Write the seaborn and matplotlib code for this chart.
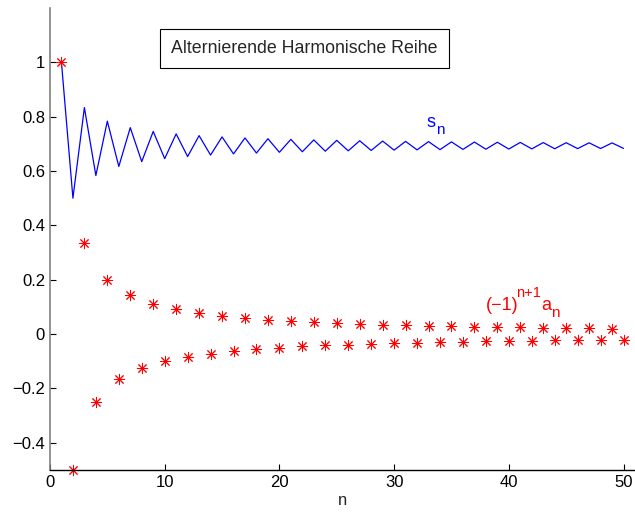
import matplotlib
matplotlib.use("Agg")
import matplotlib.pyplot as plt
import seaborn as sns
import pandas as pd

# n = 1..50
n = list(range(1, 51))

# (-1)^(n+1) a_n
a_signed = [1.0, -0.5, 0.3333, -0.25, 0.2, -0.1667, 0.1429, -0.125, 0.1111, -0.1,
            0.0909, -0.0833, 0.0769, -0.0714, 0.0667, -0.0625, 0.0588, -0.0556, 0.0526, -0.05,
            0.0476, -0.0455, 0.0435, -0.0417, 0.04, -0.0385, 0.037, -0.0357, 0.0345, -0.0333,
            0.0323, -0.0313, 0.0303, -0.0294, 0.0286, -0.0278, 0.027, -0.0263, 0.0256, -0.025,
            0.0244, -0.0238, 0.0233, -0.0227, 0.0222, -0.0217, 0.0213, -0.0208, 0.0204, -0.02]

# partial sums s_n
s_n = [1.0, 0.5, 0.8333, 0.5833, 0.7833, 0.6167, 0.7595, 0.6345, 0.7456, 0.6456,
       0.7365, 0.6532, 0.7301, 0.6587, 0.7254, 0.6629, 0.7217, 0.6661, 0.7188, 0.6688,
       0.7164, 0.6709, 0.7144, 0.6728, 0.7128, 0.6743, 0.7113, 0.6756, 0.7101, 0.6768,
       0.709, 0.6778, 0.7081, 0.6787, 0.7072, 0.6795, 0.7065, 0.6802, 0.7058, 0.6808,
       0.7052, 0.6814, 0.7046, 0.6819, 0.7041, 0.6824, 0.7037, 0.6828, 0.7033, 0.6832]

df = pd.DataFrame({"n": n, "a": a_signed, "s": s_n})

sns.set_style("ticks")
plt.rcParams["font.family"] = ["Liberation Sans", "DejaVu Sans"]
plt.rcParams["xtick.direction"] = "in"
plt.rcParams["ytick.direction"] = "in"

fig = plt.figure(figsize=(6.35, 5.14), dpi=100)
ax = fig.add_axes([0.0787, 0.0856, 0.9213, 0.899])

sns.lineplot(data=df, x="n", y="s", ax=ax, color="#0000ff", linewidth=0.9)
ax.plot(df["n"], df["a"], linestyle="none", marker=(8, 2, 0), markersize=8,
        markeredgecolor="#ff0000", markeredgewidth=0.7, clip_on=False)

ax.set_xlim(0, 51)
ax.set_ylim(-0.5, 1.2)
ax.set_xticks([0, 10, 20, 30, 40, 50])
ax.set_yticks([-0.4, -0.2, 0, 0.2, 0.4, 0.6, 0.8, 1])
ax.set_yticklabels(["\u22120.4", "\u22120.2", "0", "0.2", "0.4", "0.6", "0.8", "1"])
ax.tick_params(labelsize=12, length=4, width=0.8, colors="black")
ax.set_xlabel("n", fontsize=12, labelpad=2)
ax.set_ylabel("")

sns.despine(ax=ax)
ax.spines["left"].set_color("#808080")
ax.spines["left"].set_linewidth(1.2)
ax.spines["bottom"].set_color("black")
ax.spines["bottom"].set_linewidth(1.0)

ax.text(22.2, 1.05, "Alternierende Harmonische Reihe", fontsize=12.8,
        ha="center", va="center",
        bbox=dict(boxstyle="square,pad=0.62", facecolor="white",
                  edgecolor="black", linewidth=0.8))

# s_n label: base letter plus subscript, MATLAB style
ax.annotate("s", (32.8, 0.762), color="#0000ff", fontsize=13, ha="left", va="baseline")
ax.annotate("n", (32.8, 0.762), xytext=(7, -5), textcoords="offset points",
            color="#0000ff", fontsize=11, ha="left", va="baseline")

# (-1)^{n+1} a_n label
ax.annotate("(\u22121)", (38.0, 0.09), color="#ff0000", fontsize=13, ha="left", va="baseline")
ax.annotate("n+1", (38.0, 0.09), xytext=(22, 9), textcoords="offset points",
            color="#ff0000", fontsize=10.5, ha="left", va="baseline")
ax.annotate("a", (38.0, 0.09), xytext=(40, 0), textcoords="offset points",
            color="#ff0000", fontsize=13, ha="left", va="baseline")
ax.annotate("n", (38.0, 0.09), xytext=(47, -5), textcoords="offset points",
            color="#ff0000", fontsize=11, ha="left", va="baseline")

fig.savefig("out.png", dpi=100)
